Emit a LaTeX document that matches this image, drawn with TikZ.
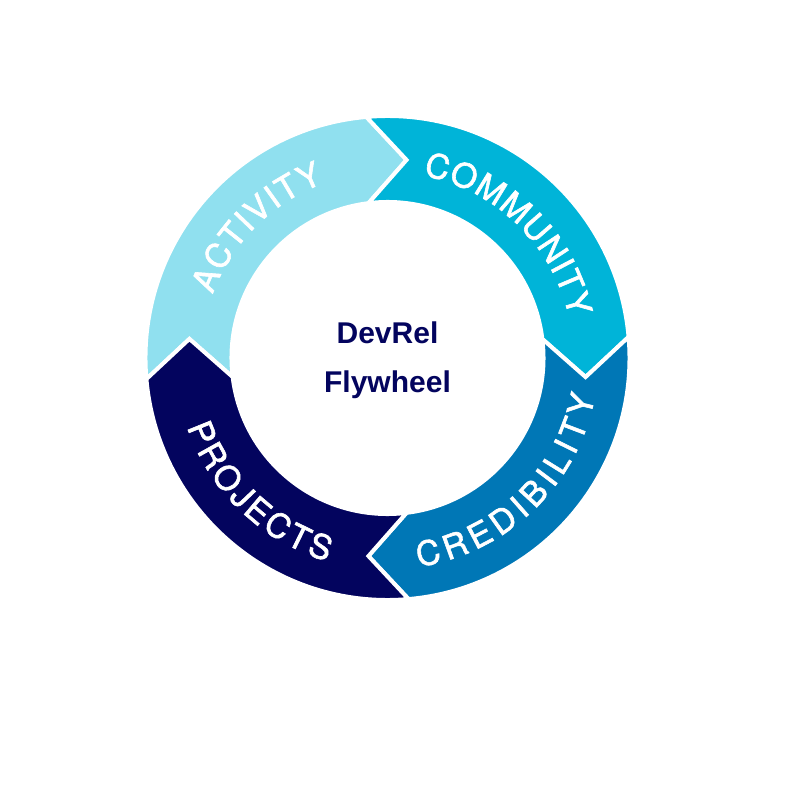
\documentclass[tikz,border=0pt]{standalone}
\usepackage{fontspec}
\usetikzlibrary{decorations.text}
\newfontfamily\ringfont{TeX Gyre Heros}[Scale=3.35, FakeBold=1.8]
\newfontfamily\titlefont{Liberation Sans}
\definecolor{actcol}{HTML}{90E0EF}
\definecolor{comcol}{HTML}{00B4D8}
\definecolor{credcol}{HTML}{0077B6}
\definecolor{projcol}{HTML}{03045E}
\tikzset{
  wheelpart/.style={draw=white, line width=4pt, line join=miter},
  ringlabel/.style={decoration={text along path, text align=fit to path, text color=white,
      text={|\ringfont|#1}}, decorate},
}
\begin{document}
\begin{tikzpicture}[x=1pt,y=1pt]
%set diagram frame, wheel centre at (0,0)
\fill[white] (-387.5,-442) rectangle (412.5,358);
\useasboundingbox (-387.5,-442) rectangle (412.5,358);

%Shape: four arrow parts of the wheel
\foreach \a/\col [evaluate=\a as \b using \a-90] in {174.5/actcol,84.5/comcol,-5.5/credcol,-95.5/projcol}
  \filldraw[wheelpart, fill=\col] (\a+10.5:242) arc[start angle=\a+10.5, end angle=\b+10.5, radius=242]
    -- (\b:199) -- (\b+12.5:156) arc[start angle=\b+12.5, end angle=\a+12.5, radius=156] -- (\a:199) -- cycle;

% Text along the wheel
\path[ringlabel=ACTIVITY] (160:186) arc[start angle=160, end angle=110, radius=186];
\path[ringlabel=COMMUNITY] (79:186) arc[start angle=79, end angle=12.5, radius=186];
\path[ringlabel=CREDIBILITY] (-81.5:211) arc[start angle=-81.5, end angle=-10.5, radius=211];
\path[ringlabel=PROJECTS] (199:212) arc[start angle=199, end angle=253.5, radius=212];

% Text Node
\node[font=\titlefont\bfseries\fontsize{30}{49}\selectfont, text=projcol, align=center] (title) at (0,-2) {DevRel\\Flywheel};

\end{tikzpicture}
\end{document}
